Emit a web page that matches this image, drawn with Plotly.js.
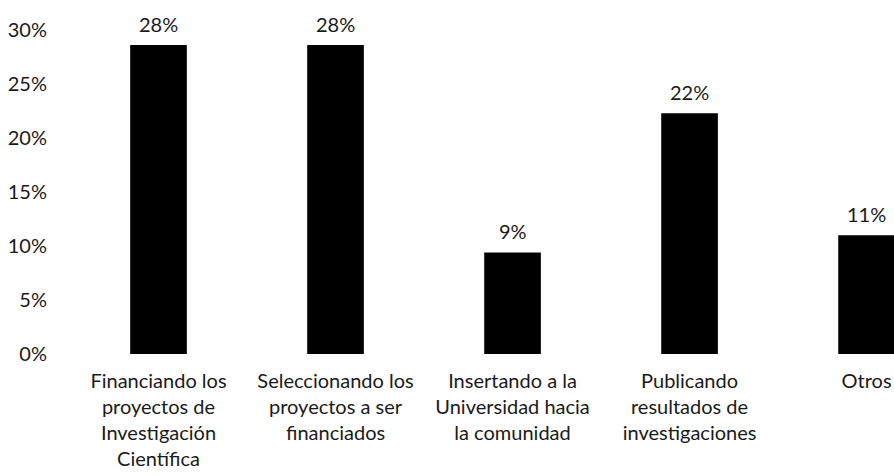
<!DOCTYPE html>
<html>
<head>
<meta charset="utf-8">
<script src="https://cdn.plot.ly/plotly-3.0.1.min.js"></script>
<style>html,body{margin:0;padding:0;background:#fff;}#chart{width:894px;height:476px;}</style>
</head>
<body>
<div id="chart"></div>
<script>
const categories = [
  "Financiando los<br>proyectos de<br>Investigación<br>Científica",
  "Seleccionando los<br>proyectos a ser<br>financiados",
  "Insertando a la<br>Universidad hacia<br>la comunidad",
  "Publicando<br>resultados de<br>investigaciones",
  "Otros"
];
const values = [28.6, 28.6, 9.4, 22.3, 11.0];
const valueLabels = ["28%", "28%", "9%", "22%", "11%"];
const yTicks = [0, 5, 10, 15, 20, 25, 30];

const fontFamily = "Lato, 'Open Sans', sans-serif";
const textColor = "#1a1a1a";
const fs = 20;

const trace = {
  type: "bar",
  x: categories,
  y: values,
  marker: {color: "#000000", line: {width: 0}},
  hoverinfo: "none"
};

const annotations = categories.map((c, i) => ({
  x: c, y: values[i], xref: "x", yref: "y",
  text: valueLabels[i], showarrow: false,
  yanchor: "middle", yshift: 21,
  font: {family: fontFamily, size: fs, color: textColor}
}));

const layout = {
  width: 894, height: 476,
  margin: {l: 70, r: 0, t: 30, b: 122, pad: 0},
  paper_bgcolor: "#ffffff", plot_bgcolor: "#ffffff",
  bargap: 0.68,
  showlegend: false,
  font: {family: fontFamily, size: fs, color: textColor},
  xaxis: {
    type: "category",
    range: [-0.5, 4.155],
    showgrid: false, zeroline: false, showline: false,
    ticks: "", tickangle: 0, ticklabelstandoff: 13,
    tickfont: {family: fontFamily, size: fs, color: textColor}
  },
  yaxis: {
    range: [0, 30],
    tickvals: yTicks,
    ticktext: yTicks.map(v => v + "%"),
    showgrid: false, zeroline: false, showline: false,
    ticks: "", ticklabelstandoff: 22,
    tickfont: {family: fontFamily, size: fs, color: textColor}
  },
  annotations: annotations
};

Plotly.newPlot("chart", [trace], layout, {staticPlot: true, displayModeBar: false});
</script>
</body>
</html>
